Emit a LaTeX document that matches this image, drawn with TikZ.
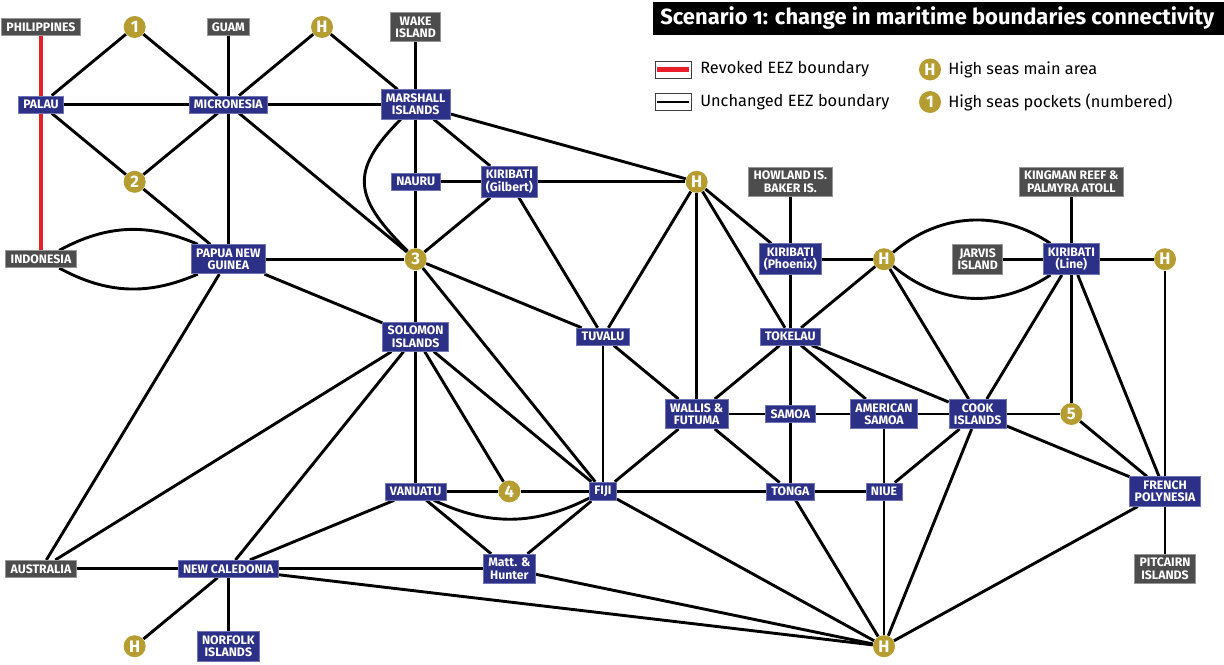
\documentclass[tikz,border=0pt]{standalone}
\usepackage{fontspec}
\setmainfont{Fira Sans}
\newfontfamily\titlefont[Numbers=OldStyle]{Fira Sans}
\usetikzlibrary{backgrounds}

\definecolor{eezblue}{RGB}{45,48,135}
\definecolor{eezblueline}{RGB}{112,116,178}
\definecolor{eezgray}{RGB}{77,77,77}
\definecolor{eezgrayline}{RGB}{150,150,150}
\definecolor{hsgold}{RGB}{181,157,50}
\definecolor{revred}{RGB}{232,30,40}

\tikzset{
  eez/.style={rectangle, fill=eezblue, draw=eezblueline, line width=0.4pt,
    text=white, font=\bfseries\fontsize{7}{7}\selectfont, align=center,
    inner xsep=2.8pt, inner ysep=2.3pt, minimum height=9.7pt},
  terr/.style={eez, fill=eezgray, draw=eezgrayline},
  hs/.style={circle, fill=hsgold, text=white,
    font=\bfseries\fontsize{9.5}{9.5}\selectfont, minimum size=0.44cm, inner sep=0pt},
  bnd/.style={line width=1.65pt},
  revoked/.style={line width=2.6pt, revred},
  swatch/.style={rectangle, draw=black!75, line width=0.5pt, fill=white,
    minimum width=0.72cm, minimum height=0.34cm, inner sep=0pt},
  legtext/.style={anchor=west, font=\fontsize{9.3}{9.3}\selectfont, inner sep=0pt}
}

\begin{document}
\begin{tikzpicture}[x=1.8733cm, y=-1.548cm]
  \useasboundingbox (-0.4377,-0.3488) rectangle (12.6296,8.2300);

  % title
  \fill[black] (6.534,-0.323) rectangle (12.630,0.103);
  \node[anchor=west, text=white, inner sep=0pt,
    font=\titlefont\bfseries\fontsize{12.5}{12.5}\selectfont] (title) at (6.608,-0.110)
    {Scenario 1: change in maritime boundaries connectivity};

  % legend
  \node[swatch] (swred) at (6.747,0.549) {};
  \draw[revoked] ([xshift=1.5pt]swred.west) -- ([xshift=-1.5pt]swred.east);
  \node[legtext] (txred) at (7.035,0.549) {Revoked EEZ boundary};
  \node[swatch] (swblk) at (6.747,0.969) {};
  \draw[bnd] ([xshift=1.5pt]swblk.west) -- ([xshift=-1.5pt]swblk.east);
  \node[legtext] (txblk) at (7.035,0.969) {Unchanged EEZ boundary};
  \node[hs] (leghs) at (9.491,0.549) {H};
  \node[legtext] (txhs) at (9.683,0.549) {High seas main area};
  \node[hs] (legpk) at (9.491,0.969) {1};
  \node[legtext] (txpk) at (9.683,0.969) {High seas pockets (numbered)};

  % other territories (grey)
  \node[terr] (phil) at (0,0) {PHILIPPINES};
  \node[terr] (guam) at (2,0) {GUAM};
  \node[terr] (wake) at (4,0) {WAKE\\ISLAND};
  \node[terr] (indo) at (0,3) {INDONESIA};
  \node[terr] (aus) at (0,7) {AUSTRALIA};
  \node[terr] (howl) at (8,2) {HOWLAND IS.\\BAKER IS.};
  \node[terr] (king) at (11,2) {KINGMAN REEF \&\\PALMYRA ATOLL};
  \node[terr] (jarv) at (10,3) {JARVIS\\ISLAND};
  \node[terr] (pitc) at (12,7) {PITCAIRN\\ISLANDS};

  % pacific island states (blue)
  \node[eez] (palau) at (0,1) {PALAU};
  \node[eez] (micro) at (2,1) {MICRONESIA};
  \node[eez] (marsh) at (4,1) {MARSHALL\\ISLANDS};
  \node[eez] (nauru) at (4,2) {NAURU};
  \node[eez] (gilb) at (5,2) {KIRIBATI\\(Gilbert)};
  \node[eez] (png) at (2,3) {PAPUA NEW\\GUINEA};
  \node[eez] (phoe) at (8,3) {KIRIBATI\\(Phoenix)};
  \node[eez] (kirline) at (11,3) {KIRIBATI\\(Line)};
  \node[eez] (solo) at (4,4) {SOLOMON\\ISLANDS};
  \node[eez] (tuva) at (6,4) {TUVALU};
  \node[eez] (toke) at (8,4) {TOKELAU};
  \node[eez] (wall) at (7,5) {WALLIS \&\\FUTUMA};
  \node[eez] (samoa) at (8,5) {SAMOA};
  \node[eez] (amsam) at (9,5) {AMERICAN\\SAMOA};
  \node[eez] (cook) at (10,5) {COOK\\ISLANDS};
  \node[eez] (vanu) at (4,6) {VANUATU};
  \node[eez] (fiji) at (6,6) {FIJI};
  \node[eez] (tonga) at (8,6) {TONGA};
  \node[eez] (niue) at (9,6) {NIUE};
  \node[eez] (frpol) at (12,6) {FRENCH\\POLYNESIA};
  \node[eez] (newcal) at (2,7) {NEW CALEDONIA};
  \node[eez] (matt) at (5,7) {Matt. \&\\Hunter};
  \node[eez] (norf) at (2,8) {NORFOLK\\ISLANDS};

  % high seas
  \node[hs] (pk1) at (1,0) {1};
  \node[hs] (hsA) at (3,0) {H};
  \node[hs] (pk2) at (1,2) {2};
  \node[hs] (pk3) at (4,3) {3};
  \node[hs] (hsB) at (7,2) {H};
  \node[hs] (hsC) at (9,3) {H};
  \node[hs] (hsD) at (12,3) {H};
  \node[hs] (pk4) at (5,6) {4};
  \node[hs] (pk5) at (11,5) {5};
  \node[hs] (hsE) at (1,8) {H};
  \node[hs] (hsF) at (9,8) {H};

  % boundaries
  \begin{scope}[on background layer]
    \draw[revoked] (phil) -- (indo);
    \foreach \a/\b in {palau/pk1, pk1/micro, palau/micro, palau/pk2, pk2/micro,
        pk2/png, guam/micro, micro/hsA, hsA/marsh, micro/png, micro/marsh,
        micro/pk3, wake/marsh, marsh/nauru, nauru/pk3, png/pk3, pk3/gilb,
        nauru/gilb, marsh/gilb, marsh/hsB, gilb/hsB, gilb/tuva, pk3/tuva,
        pk3/solo, pk3/fiji, png/solo, png/aus, hsB/tuva, hsB/wall, hsB/toke,
        hsB/phoe, howl/phoe, phoe/hsC, phoe/toke, hsC/toke, hsC/cook,
        jarv/kirline, king/kirline, kirline/hsD, kirline/pk5, kirline/cook,
        kirline/frpol, hsD/frpol, toke/wall, toke/samoa, toke/amsam, toke/cook,
        tuva/wall, tuva/fiji, wall/samoa, samoa/amsam, amsam/cook, cook/pk5,
        pk5/frpol, cook/frpol, cook/niue, cook/hsF, amsam/niue, samoa/tonga,
        wall/fiji, wall/tonga, fiji/tonga, tonga/niue, tonga/hsF, niue/hsF,
        frpol/hsF, frpol/pitc, fiji/hsF, matt/hsF, newcal/hsF, solo/vanu,
        solo/pk4, solo/fiji, solo/aus, solo/newcal, vanu/pk4, pk4/fiji,
        vanu/matt, vanu/newcal, fiji/matt, newcal/matt, aus/newcal,
        newcal/hsE, newcal/norf}
      \draw[bnd] (\a) -- (\b);
    % curved boundaries
    \draw[bnd] (indo) to[bend left=26] (png);
    \draw[bnd] (indo) to[bend right=26] (png);
    \draw[bnd] (marsh) to[out=225, in=135, looseness=1.45] (pk3);
    \draw[bnd] (hsC) to[bend left=37] (kirline);
    \draw[bnd] (hsC) to[bend right=37] (kirline);
    \draw[bnd] (vanu) to[bend right=26] (fiji);
  \end{scope}
\end{tikzpicture}
\end{document}
